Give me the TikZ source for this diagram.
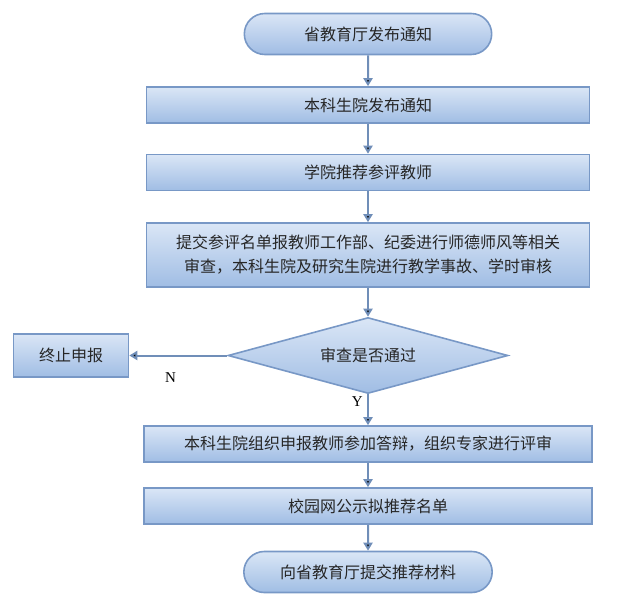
\documentclass[tikz,border=0pt]{standalone}
\usepackage{fontspec}
\newfontfamily\cjk{Noto Sans CJK SC}
\newfontfamily\latin{Liberation Serif}
\usepackage{tikz}
\usetikzlibrary{positioning,arrows.meta,shapes.geometric,shapes.misc}

\definecolor{fillhi}{RGB}{218,230,246}
\definecolor{filllo}{RGB}{160,189,228}
\definecolor{rim}{RGB}{120,152,198}
\definecolor{wire}{RGB}{112,142,184}

\begin{document}
\begin{tikzpicture}[x=1pt, y=-1pt, node distance=70pt, on grid,
    every node/.style={font=\cjk\fontsize{16}{24}\selectfont, text=black!85},
    box/.style={rectangle, draw=rim, line width=1.6pt, top color=fillhi, bottom color=filllo,
        minimum width=443pt, minimum height=36pt, inner sep=2pt},
    term/.style={rounded rectangle, draw=rim, line width=1.6pt, top color=fillhi, bottom color=filllo,
        minimum width=254pt, minimum height=41pt},
    check/.style={diamond, aspect=3.7, draw=rim, line width=1.6pt, top color=fillhi, bottom color=filllo,
        minimum width=280pt, minimum height=76pt, inner sep=1pt},
    yn/.style={font=\latin\fontsize{15}{18}\selectfont, text=black}]

    \useasboundingbox (0,0) rectangle (639,607);

    \node[term] (start) at (368,34) {省教育厅发布通知};
    \node[box] (notice) [below=71pt of start] {本科生院发布通知};
    \node[box] (recommend) [below=67.5pt of notice] {学院推荐参评教师};
    \node[box, minimum height=64pt, align=center] (review) [below=82.5pt of recommend]
        {提交参评名单报教师工作部、纪委进行师德师风等相关\\审查，本科生院及研究生院进行教学事故、学时审核};
    \node[check] (pass) [below=100.5pt of review] {审查是否通过};
    \node[box, minimum width=115pt, minimum height=43pt] (stop) [left=297pt of pass] {终止申报};
    \node[box, minimum width=448pt] (defense) [below=88.5pt of pass] {本科生院组织申报教师参加答辩，组织专家进行评审};
    \node[box, minimum width=448pt] (publish) [below=62pt of defense] {校园网公示拟推荐名单};
    \node[term, minimum width=255pt] (submit) [below=66pt of publish] {向省教育厅提交推荐材料};

    \path[-{Triangle[width=9pt,length=8pt]}, draw=wire, line width=2pt]
        (start) edge (notice)
        (notice) edge (recommend)
        (recommend) edge (review)
        (review) edge (pass)
        (pass) edge node[yn, pos=0.58, below=13pt] {N} (stop)
        (pass) edge node[yn, pos=0.22, left=1pt] {Y} (defense)
        (defense) edge (publish)
        (publish) edge (submit);

\end{tikzpicture}
\end{document}
